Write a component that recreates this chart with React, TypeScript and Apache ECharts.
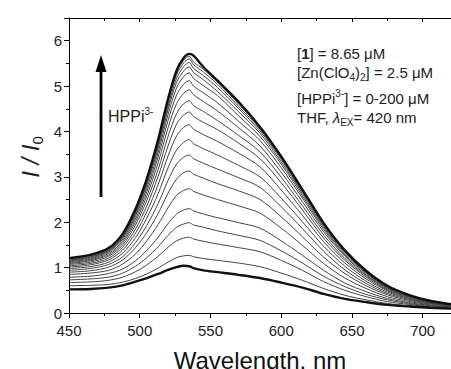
import React, { useEffect, useRef } from "react";
import * as echarts from "echarts";

const FONT = "'Liberation Sans', Arial, Helvetica, sans-serif";

const wavelengths = [450, 465, 478, 488, 497, 505, 513, 520, 526, 531, 535, 538, 545, 555, 570, 585, 600, 615, 630, 645, 660, 675, 690, 705, 725];

const s00 = [0.52, 0.53, 0.56, 0.61, 0.69, 0.77, 0.86, 0.95, 1.01, 1.04, 1.03, 0.99, 0.94, 0.9, 0.84, 0.77, 0.67, 0.56, 0.42, 0.31, 0.24, 0.18, 0.145, 0.115, 0.09];
const s01 = [0.6, 0.61, 0.63, 0.68, 0.76, 0.86, 0.99, 1.12, 1.22, 1.26, 1.27, 1.24, 1.2, 1.16, 1.1, 1.02, 0.88, 0.72, 0.54, 0.39, 0.29, 0.21, 0.165, 0.127, 0.096];
const s02 = [0.67, 0.685, 0.72, 0.79, 0.91, 1.06, 1.25, 1.45, 1.59, 1.65, 1.67, 1.63, 1.58, 1.52, 1.44, 1.35, 1.16, 0.94, 0.69, 0.5, 0.36, 0.25, 0.19, 0.14, 0.104];
const s03 = [0.73, 0.75, 0.79, 0.88, 1.03, 1.22, 1.46, 1.71, 1.89, 1.96, 1.99, 1.94, 1.89, 1.81, 1.71, 1.6, 1.37, 1.1, 0.81, 0.58, 0.41, 0.29, 0.21, 0.154, 0.11];
const s04 = [0.79, 0.81, 0.87, 0.97, 1.15, 1.38, 1.67, 1.97, 2.18, 2.27, 2.3, 2.25, 2.18, 2.1, 1.99, 1.87, 1.59, 1.27, 0.94, 0.66, 0.47, 0.32, 0.23, 0.166, 0.116];
const s05 = [0.85, 0.88, 0.94, 1.08, 1.3, 1.59, 1.95, 2.32, 2.59, 2.7, 2.74, 2.68, 2.6, 2.5, 2.36, 2.2, 1.87, 1.49, 1.09, 0.77, 0.54, 0.36, 0.255, 0.18, 0.124];
const s06 = [0.9, 0.93, 1.01, 1.17, 1.44, 1.77, 2.19, 2.64, 2.95, 3.09, 3.13, 3.06, 2.97, 2.85, 2.69, 2.5, 2.12, 1.68, 1.23, 0.87, 0.6, 0.4, 0.28, 0.196, 0.132];
const s07 = [0.94, 0.98, 1.07, 1.24, 1.55, 1.93, 2.41, 2.92, 3.28, 3.43, 3.48, 3.4, 3.3, 3.17, 2.98, 2.77, 2.34, 1.86, 1.36, 0.95, 0.65, 0.43, 0.3, 0.21, 0.138];
const s08 = [0.98, 1.02, 1.12, 1.32, 1.66, 2.09, 2.63, 3.2, 3.59, 3.76, 3.82, 3.73, 3.62, 3.48, 3.25, 3.0, 2.53, 2.01, 1.47, 1.03, 0.7, 0.46, 0.32, 0.22, 0.144];
const s09 = [1.01, 1.06, 1.17, 1.39, 1.76, 2.23, 2.83, 3.46, 3.9, 4.09, 4.15, 4.05, 3.93, 3.78, 3.52, 3.22, 2.71, 2.15, 1.57, 1.1, 0.75, 0.49, 0.33, 0.23, 0.149];
const s10 = [1.04, 1.09, 1.21, 1.45, 1.85, 2.36, 3.01, 3.68, 4.16, 4.36, 4.43, 4.33, 4.2, 4.04, 3.74, 3.4, 2.87, 2.27, 1.65, 1.16, 0.79, 0.51, 0.35, 0.24, 0.153];
const s11 = [1.07, 1.12, 1.25, 1.5, 1.94, 2.48, 3.16, 3.89, 4.39, 4.61, 4.68, 4.57, 4.44, 4.24, 3.91, 3.55, 2.99, 2.36, 1.72, 1.2, 0.82, 0.53, 0.36, 0.244, 0.157];
const s12 = [1.09, 1.15, 1.28, 1.55, 2.01, 2.58, 3.31, 4.08, 4.61, 4.84, 4.92, 4.81, 4.66, 4.45, 4.08, 3.68, 3.1, 2.45, 1.79, 1.25, 0.84, 0.55, 0.37, 0.25, 0.16];
const s13 = [1.11, 1.17, 1.31, 1.59, 2.07, 2.67, 3.44, 4.24, 4.8, 5.04, 5.12, 5.0, 4.85, 4.63, 4.22, 3.8, 3.2, 2.53, 1.84, 1.28, 0.87, 0.56, 0.38, 0.256, 0.163];
const s14 = [1.13, 1.19, 1.34, 1.63, 2.13, 2.75, 3.54, 4.37, 4.96, 5.21, 5.29, 5.17, 5.01, 4.79, 4.34, 3.89, 3.28, 2.58, 1.88, 1.31, 0.89, 0.57, 0.38, 0.26, 0.165];
const s15 = [1.15, 1.21, 1.36, 1.66, 2.17, 2.82, 3.63, 4.48, 5.08, 5.33, 5.42, 5.3, 5.14, 4.88, 4.43, 3.96, 3.33, 2.63, 1.91, 1.34, 0.9, 0.58, 0.39, 0.263, 0.167];
const s16 = [1.16, 1.23, 1.38, 1.68, 2.21, 2.86, 3.69, 4.56, 5.17, 5.43, 5.52, 5.39, 5.23, 4.97, 4.5, 4.01, 3.38, 2.66, 1.94, 1.35, 0.91, 0.59, 0.39, 0.266, 0.168];
const s17 = [1.17, 1.24, 1.39, 1.7, 2.23, 2.9, 3.74, 4.63, 5.25, 5.51, 5.6, 5.47, 5.31, 5.04, 4.55, 4.05, 3.41, 2.69, 1.96, 1.37, 0.92, 0.59, 0.4, 0.268, 0.169];
const s18 = [1.19, 1.26, 1.41, 1.73, 2.26, 2.93, 3.78, 4.68, 5.3, 5.57, 5.66, 5.53, 5.37, 5.09, 4.6, 4.08, 3.43, 2.71, 1.97, 1.37, 0.93, 0.6, 0.4, 0.269, 0.17];
const s19 = [1.21, 1.28, 1.43, 1.75, 2.29, 2.96, 3.82, 4.72, 5.34, 5.62, 5.71, 5.67, 5.42, 5.12, 4.65, 4.1, 3.45, 2.72, 1.98, 1.38, 0.93, 0.6, 0.4, 0.27, 0.17];

const spectra = [s00, s01, s02, s03, s04, s05, s06, s07, s08, s09, s10, s11, s12, s13, s14, s15, s16, s17, s18, s19];

const xTitle = "Wavelength, nm";

const rich = {
  n: { fontSize: 15, fontFamily: FONT, fill: "#222", lineHeight: 20 },
  b: { fontSize: 15, fontFamily: FONT, fill: "#222", fontWeight: "bold", lineHeight: 20 },
  it: { fontSize: 15, fontFamily: FONT, fill: "#222", fontStyle: "italic", lineHeight: 20 },
  sub: { fontSize: 10, fontFamily: FONT, fill: "#222", lineHeight: 10, verticalAlign: "bottom" },
  sup: { fontSize: 10, fontFamily: FONT, fill: "#222", lineHeight: 10, verticalAlign: "top" },
};

export default function App() {
  const ref = useRef<HTMLDivElement>(null);
  useEffect(() => {
    if (!ref.current) return;
    const chart = echarts.init(ref.current, undefined, { renderer: "svg" });
    const axisCommon = {
      type: "value" as const,
      min: 450,
      max: 720,
      interval: 50,
      splitLine: { show: false },
    };
    const option = {
      animation: false,
      backgroundColor: "#fff",
      grid: { left: 69, right: 0, top: 18, bottom: 56, containLabel: false, outerBoundsMode: "none" },
      xAxis: [
        {
          ...axisCommon,
          position: "bottom",
          axisLine: { show: true, lineStyle: { color: "#000", width: 1 } },
          axisTick: { show: true, length: 5, inside: false, lineStyle: { color: "#000" } },
          minorTick: { show: true, splitNumber: 2, length: 3, lineStyle: { color: "#000" } },
          axisLabel: { fontSize: 15, color: "#222", margin: 10, showMaxLabel: false, fontFamily: FONT },
          name: xTitle,
          nameLocation: "middle",
          nameGap: 35,
          nameTextStyle: { fontSize: 24, color: "#111", fontFamily: FONT },
        },
        {
          ...axisCommon,
          position: "top",
          axisLine: { show: true, lineStyle: { color: "#000", width: 1 } },
          axisTick: { show: true, length: 4, inside: true, lineStyle: { color: "#000" } },
          minorTick: { show: true, splitNumber: 2, length: 3, lineStyle: { color: "#000" } },
          axisLabel: { show: false },
        },
      ],
      yAxis: {
        type: "value",
        min: 0,
        max: 6.5,
        interval: 1,
        splitLine: { show: false },
        axisLine: { show: true, lineStyle: { color: "#000", width: 1 } },
        axisTick: { show: true, length: 5, inside: false, lineStyle: { color: "#000" } },
        minorTick: { show: true, splitNumber: 2, length: 3, lineStyle: { color: "#000" } },
        axisLabel: { fontSize: 15, color: "#222", margin: 7, showMaxLabel: false, fontFamily: FONT },
      },
      series: spectra.map((s, i) => {
        const bold = i === 0 || i === spectra.length - 1;
        return {
          type: "line",
          data: wavelengths.map((w, j) => [w, s[j]]),
          showSymbol: false,
          smooth: 0.3,
          z: bold ? 5 : 2,
          lineStyle: { width: bold ? 2.4 : 1, color: bold ? "#111" : "#444" },
          silent: true,
        };
      }),
      graphic: [
        { type: "line", shape: { x1: 101, y1: 197, x2: 101, y2: 68 }, style: { stroke: "#000", lineWidth: 2.8 } },
        { type: "polygon", shape: { points: [[101, 55], [95.5, 72], [106.5, 72]] }, style: { fill: "#000" } },
        {
          type: "text",
          x: 108,
          y: 116,
          style: {
            text: "{h|HPPi}{hs|3-}",
            rich: {
              h: { fontSize: 16, fontFamily: FONT, fill: "#222", lineHeight: 20 },
              hs: { fontSize: 10, fontFamily: FONT, fill: "#222", lineHeight: 10, verticalAlign: "top" },
            },
            verticalAlign: "middle",
          },
        },
        {
          type: "text",
          x: 30,
          y: 157,
          rotation: Math.PI / 2,
          style: {
            text: "{a|I / I}{s|0}",
            rich: {
              a: { fontSize: 24, fontFamily: FONT, fontStyle: "italic", fill: "#222", lineHeight: 30 },
              s: { fontSize: 15, fontFamily: FONT, fill: "#222", lineHeight: 17, verticalAlign: "bottom" },
            },
            align: "center",
            verticalAlign: "middle",
          },
        },
        { type: "text", x: 297, y: 53, style: { text: "{n|[}{b|1}{n|] = 8.65 μM}", rich, verticalAlign: "middle" } },
        { type: "text", x: 297, y: 72, style: { text: "{n|[Zn(ClO}{sub|4}{n|)}{sub|2}{n|] = 2.5 μM}", rich, verticalAlign: "middle" } },
        { type: "text", x: 297, y: 98, style: { text: "{n|[HPPi}{sup|3-}{n|] = 0-200 μM}", rich, verticalAlign: "middle" } },
        { type: "text", x: 297, y: 117, style: { text: "{n|THF, }{it|λ}{sub|EX}{n|= 420 nm}", rich, verticalAlign: "middle" } },
      ],
    };
    chart.setOption(option as any);
    return () => chart.dispose();
  }, []);
  return <div ref={ref} style={{ position: "fixed", left: 0, top: 0, width: 451, height: 369 }} />;
}
